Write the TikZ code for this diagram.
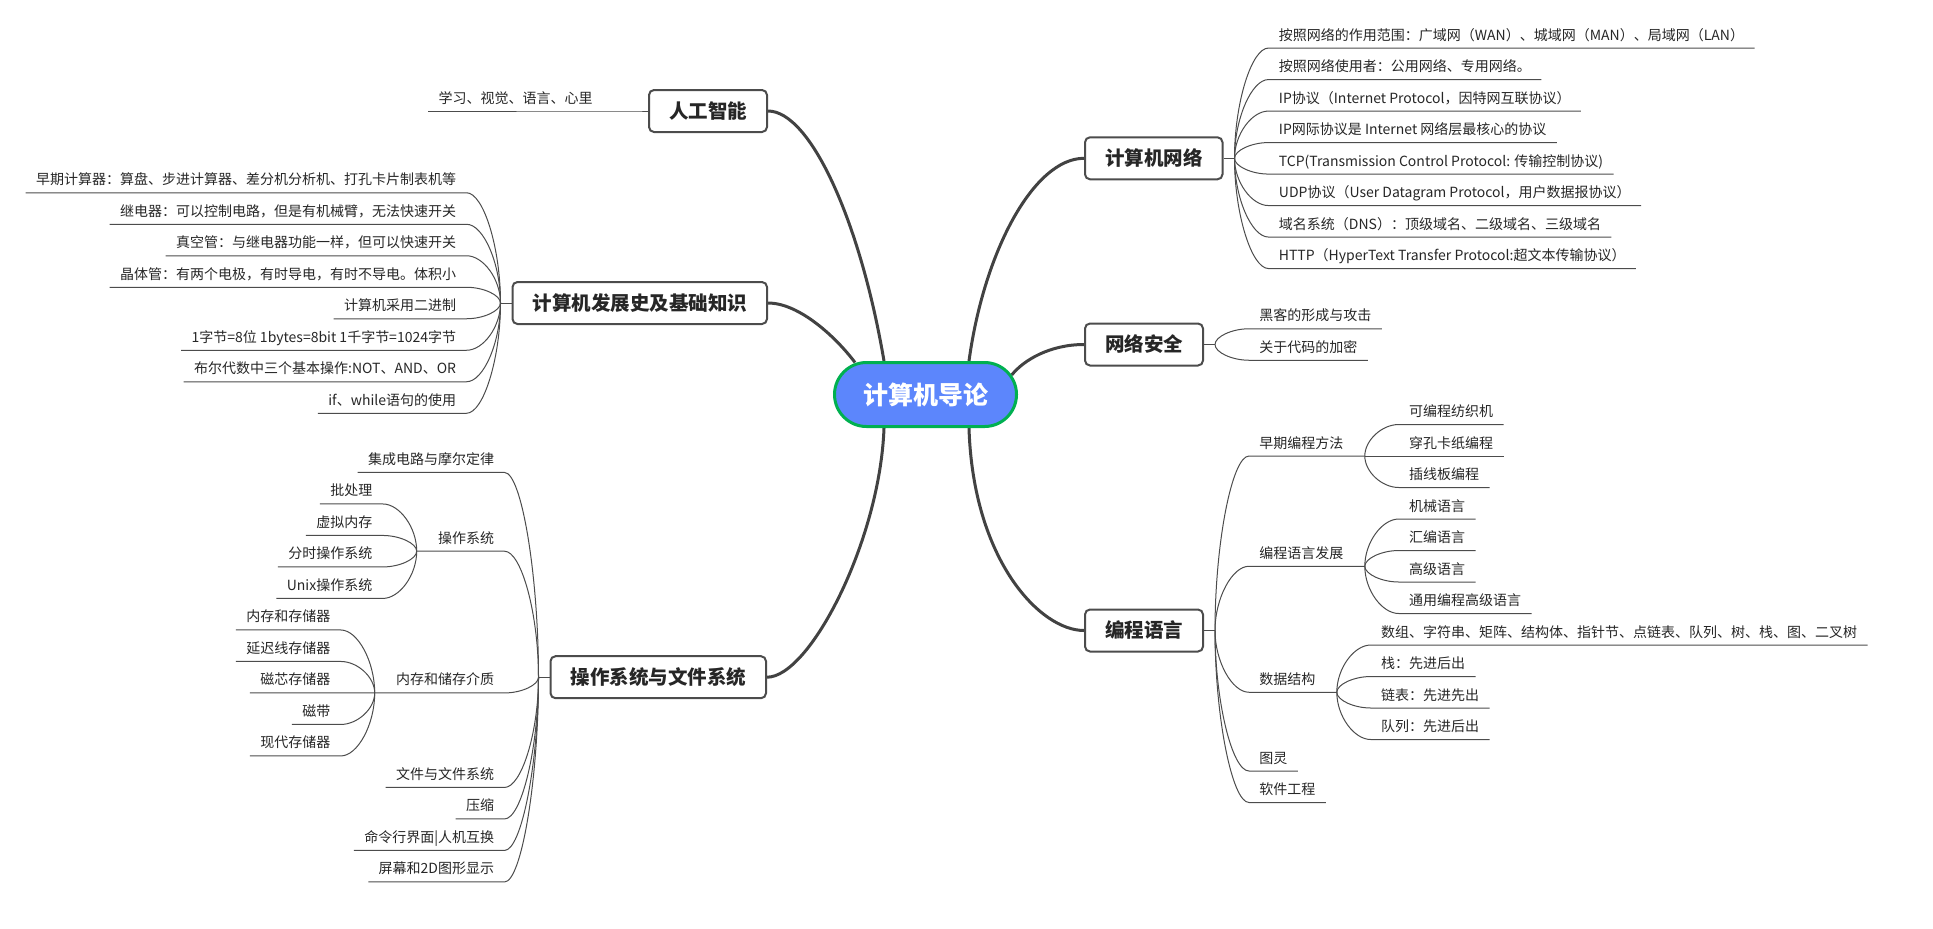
\documentclass[tikz,border=0pt]{standalone}
\usepackage{fontspec}
\setmainfont{Noto Sans CJK SC}
\usetikzlibrary{positioning, calc, backgrounds}

\definecolor{rootblue}{HTML}{5C86FC}
\definecolor{rootgreen}{HTML}{00B050}
\definecolor{linegray}{HTML}{424242}

\begin{document}
\begin{tikzpicture}[x=0.5pt, y=-0.5pt]
        \tikzstyle{root} = [rectangle, rounded corners=16pt, fill=rootblue, draw=rootgreen, line width=1.5pt, text=white, minimum width=91pt, minimum height=32pt, font=\bfseries\fontsize{12.5}{14}\selectfont, text height=11.5pt, text depth=2pt]
        \tikzstyle{topic} = [rectangle, draw=black!70, line width=1pt, fill=white, rounded corners=2.5pt, minimum height=21pt, inner xsep=10pt, font=\bfseries\fontsize{9.75}{11}\selectfont, text=black!85, text height=9pt, text depth=1.7pt]
        \tikzstyle{leaf} = [inner xsep=5pt, inner ysep=2.3pt, text height=5.5pt, text depth=1.5pt, font=\fontsize{7}{8}\selectfont, text=black!85]
        \tikzstyle{trunk} = [draw=linegray, line width=1.5pt]
        \tikzstyle{twig} = [draw=black!70, line width=0.5pt]
        \tikzstyle{branch} = [to path={.. controls ($(\tikztostart)!0.5!(\tikztostart|-\tikztotarget)$) and ($(\tikztotarget)!0.5!(\tikztostart|-\tikztotarget)$) .. (\tikztotarget) \tikztonodes}]

        \useasboundingbox (0,0) rectangle (1933,928);

        \node [root] (root) at (925.5,394.5) {计算机导论};

        % left side
        \node [topic, anchor=east] (ai) at (768,111) {人工智能};
        \node [topic, anchor=east] (hist) at (768,303) {计算机发展史及基础知识};
        \node [topic, anchor=east] (os) at (767,677.2) {操作系统与文件系统};
        \coordinate [left=5.5pt of ai.west] (aij);
        \coordinate [left=5.5pt of hist.west] (histj);
        \coordinate [left=5.5pt of os.west] (osj);

        \node [leaf, anchor=south east] (ai1) at ($(aij)+(-34,0)$) {学习、视觉、语言、心里};

        \node [leaf, anchor=south east] (hist1) at ($(histj)+(-34,-110.25)$) {早期计算器：算盘、步进计算器、差分机分析机、打孔卡片制表机等};
        \node [leaf, anchor=south east] (hist2) at ($(histj)+(-34,-78.75)$) {继电器：可以控制电路，但是有机械臂，无法快速开关};
        \node [leaf, anchor=south east] (hist3) at ($(histj)+(-34,-47.25)$) {真空管：与继电器功能一样，但可以快速开关};
        \node [leaf, anchor=south east] (hist4) at ($(histj)+(-34,-15.75)$) {晶体管：有两个电极，有时导电，有时不导电。体积小};
        \node [leaf, anchor=south east] (hist5) at ($(histj)+(-34,15.75)$) {计算机采用二进制};
        \node [leaf, anchor=south east] (hist6) at ($(histj)+(-34,47.25)$) {1字节=8位 1bytes=8bit 1千字节=1024字节};
        \node [leaf, anchor=south east] (hist7) at ($(histj)+(-34,78.75)$) {布尔代数中三个基本操作:NOT、AND、OR};
        \node [leaf, anchor=south east] (hist8) at ($(histj)+(-34,110.25)$) {if、while语句的使用};

        \node [leaf, anchor=south east] (os1) at ($(osj)+(-34,-204.75)$) {集成电路与摩尔定律};
        \node [leaf, anchor=south east] (os2) at ($(osj)+(-34,-126)$) {操作系统};
        \node [leaf, anchor=south east] (os3) at ($(osj)+(-34,15.75)$) {内存和储存介质};
        \node [leaf, anchor=south east] (os4) at ($(osj)+(-34,110.25)$) {文件与文件系统};
        \node [leaf, anchor=south east] (os5) at ($(osj)+(-34,141.75)$) {压缩};
        \node [leaf, anchor=south east] (os6) at ($(osj)+(-34,173.25)$) {命令行界面|人机互换};
        \node [leaf, anchor=south east] (os7) at ($(osj)+(-34,204.75)$) {屏幕和2D图形显示};
        \coordinate [left=5.5pt of os2.south west] (os2j);
        \coordinate [left=5.5pt of os3.south west] (os3j);

        \node [leaf, anchor=south east] (os21) at ($(os2j)+(-34,-47.25)$) {批处理};
        \node [leaf, anchor=south east] (os22) at ($(os2j)+(-34,-15.75)$) {虚拟内存};
        \node [leaf, anchor=south east] (os23) at ($(os2j)+(-34,15.75)$) {分时操作系统};
        \node [leaf, anchor=south east] (os24) at ($(os2j)+(-34,47.25)$) {Unix操作系统};

        \node [leaf, anchor=south east] (os31) at ($(os3j)+(-34,-63)$) {内存和存储器};
        \node [leaf, anchor=south east] (os32) at ($(os3j)+(-34,-31.5)$) {延迟线存储器};
        \node [leaf, anchor=south east] (os33) at ($(os3j)+(-34,0)$) {磁芯存储器};
        \node [leaf, anchor=south east] (os34) at ($(os3j)+(-34,31.5)$) {磁带};
        \node [leaf, anchor=south east] (os35) at ($(os3j)+(-34,63)$) {现代存储器};

        % right side
        \node [topic, anchor=west] (net) at (1084,158.3) {计算机网络};
        \node [topic, anchor=west] (sec) at (1084,344.5) {网络安全};
        \node [topic, anchor=west] (prog) at (1084,630.5) {编程语言};
        \coordinate [right=5.5pt of net.east] (netj);
        \coordinate [right=5.5pt of sec.east] (secj);
        \coordinate [right=5.5pt of prog.east] (progj);

        \node [leaf, anchor=south west] (net1) at ($(netj)+(34,-110.25)$) {按照网络的作用范围：广域网（WAN）、城域网（MAN）、局域网（LAN）};
        \node [leaf, anchor=south west] (net2) at ($(netj)+(34,-78.75)$) {按照网络使用者：公用网络、专用网络。};
        \node [leaf, anchor=south west] (net3) at ($(netj)+(34,-47.25)$) {IP协议（Internet Protocol，因特网互联协议）};
        \node [leaf, anchor=south west] (net4) at ($(netj)+(34,-15.75)$) {IP网际协议是 Internet 网络层最核心的协议};
        \node [leaf, anchor=south west] (net5) at ($(netj)+(34,15.75)$) {TCP(Transmission Control Protocol: 传输控制协议)};
        \node [leaf, anchor=south west] (net6) at ($(netj)+(34,47.25)$) {UDP协议（User Datagram Protocol，用户数据报协议）};
        \node [leaf, anchor=south west] (net7) at ($(netj)+(34,78.75)$) {域名系统（DNS）：顶级域名、二级域名、三级域名};
        \node [leaf, anchor=south west] (net8) at ($(netj)+(34,110.25)$) {HTTP（HyperText Transfer Protocol:超文本传输协议）};

        \node [leaf, anchor=south west] (sec1) at ($(secj)+(34,-15.75)$) {黑客的形成与攻击};
        \node [leaf, anchor=south west] (sec2) at ($(secj)+(34,15.75)$) {关于代码的加密};

        \node [leaf, anchor=south west] (p1) at ($(progj)+(34,-174.5)$) {早期编程方法};
        \node [leaf, anchor=south west] (p2) at ($(progj)+(34,-64.25)$) {编程语言发展};
        \node [leaf, anchor=south west] (p3) at ($(progj)+(34,61.75)$) {数据结构};
        \node [leaf, anchor=south west] (p4) at ($(progj)+(34,140.5)$) {图灵};
        \node [leaf, anchor=south west] (p5) at ($(progj)+(34,172)$) {软件工程};
        \coordinate [right=5.5pt of p1.south east] (p1j);
        \coordinate [right=5.5pt of p2.south east] (p2j);
        \coordinate [right=5.5pt of p3.south east] (p3j);

        \node [leaf, anchor=south west] (p11) at ($(p1j)+(34,-31.5)$) {可编程纺织机};
        \node [leaf, anchor=south west] (p12) at ($(p1j)+(34,0)$) {穿孔卡纸编程};
        \node [leaf, anchor=south west] (p13) at ($(p1j)+(34,31.5)$) {插线板编程};

        \node [leaf, anchor=south west] (p21) at ($(p2j)+(34,-47.25)$) {机械语言};
        \node [leaf, anchor=south west] (p22) at ($(p2j)+(34,-15.75)$) {汇编语言};
        \node [leaf, anchor=south west] (p23) at ($(p2j)+(34,15.75)$) {高级语言};
        \node [leaf, anchor=south west] (p24) at ($(p2j)+(34,47.25)$) {通用编程高级语言};

        \node [leaf, anchor=south west] (p31) at ($(p3j)+(34,-47.25)$) {数组、字符串、矩阵、结构体、指针节、点链表、队列、树、栈、图、二叉树};
        \node [leaf, anchor=south west] (p32) at ($(p3j)+(34,-15.75)$) {栈：先进后出};
        \node [leaf, anchor=south west] (p33) at ($(p3j)+(34,15.75)$) {链表：先进先出};
        \node [leaf, anchor=south west] (p34) at ($(p3j)+(34,47.25)$) {队列：先进后出};

        \begin{scope}[on background layer]
        % main curves
        \draw [trunk] ($(root.north)+(-41.5,0)$) .. controls +(-24,-141) and +(42,0) .. (ai.east);
        \draw [trunk] ($(root.north west)+(22,1.5)$) .. controls +(-18,-24) and +(32,0) .. (hist.east);
        \draw [trunk] ($(root.south)+(-41.5,0)$) .. controls +(-4,112) and +(43,0) .. (os.east);
        \draw [trunk] ($(root.north)+(43.5,0)$) .. controls +(15,-110) and +(-50,0) .. (net.west);
        \draw [trunk] ($(root.north east)+(-6.3,14)$) .. controls +(12,-15) and +(-34,0) .. (sec.west);
        \draw [trunk] ($(root.south)+(43.5,0)$) .. controls +(4,132) and +(-44,0) .. (prog.west);

        % left branches
        \draw [twig] (ai.west) -- (aij) to[branch] (ai1.south east) -- (ai1.south west);
        \draw [twig] (hist.west) -- (histj);
        \draw [twig] (histj) to[branch] (hist1.south east) -- (hist1.south west);
        \draw [twig] (histj) to[branch] (hist2.south east) -- (hist2.south west);
        \draw [twig] (histj) to[branch] (hist3.south east) -- (hist3.south west);
        \draw [twig] (histj) to[branch] (hist4.south east) -- (hist4.south west);
        \draw [twig] (histj) to[branch] (hist5.south east) -- (hist5.south west);
        \draw [twig] (histj) to[branch] (hist6.south east) -- (hist6.south west);
        \draw [twig] (histj) to[branch] (hist7.south east) -- (hist7.south west);
        \draw [twig] (histj) to[branch] (hist8.south east) -- (hist8.south west);

        \draw [twig] (os.west) -- (osj);
        \draw [twig] (osj) to[branch] (os1.south east) -- (os1.south west);
        \draw [twig] (osj) to[branch] (os2.south east) -- (os2.south west) -- (os2j);
        \draw [twig] (osj) to[branch] (os3.south east) -- (os3.south west) -- (os3j);
        \draw [twig] (osj) to[branch] (os4.south east) -- (os4.south west);
        \draw [twig] (osj) to[branch] (os5.south east) -- (os5.south west);
        \draw [twig] (osj) to[branch] (os6.south east) -- (os6.south west);
        \draw [twig] (osj) to[branch] (os7.south east) -- (os7.south west);
        \draw [twig] (os2j) to[branch] (os21.south east) -- (os21.south west);
        \draw [twig] (os2j) to[branch] (os22.south east) -- (os22.south west);
        \draw [twig] (os2j) to[branch] (os23.south east) -- (os23.south west);
        \draw [twig] (os2j) to[branch] (os24.south east) -- (os24.south west);
        \draw [twig] (os3j) to[branch] (os31.south east) -- (os31.south west);
        \draw [twig] (os3j) to[branch] (os32.south east) -- (os32.south west);
        \draw [twig] (os3j) to[branch] (os33.south east) -- (os33.south west);
        \draw [twig] (os3j) to[branch] (os34.south east) -- (os34.south west);
        \draw [twig] (os3j) to[branch] (os35.south east) -- (os35.south west);

        % right branches
        \draw [twig] (net.east) -- (netj);
        \draw [twig] (netj) to[branch] (net1.south west) -- (net1.south east);
        \draw [twig] (netj) to[branch] (net2.south west) -- (net2.south east);
        \draw [twig] (netj) to[branch] (net3.south west) -- (net3.south east);
        \draw [twig] (netj) to[branch] (net4.south west) -- (net4.south east);
        \draw [twig] (netj) to[branch] (net5.south west) -- (net5.south east);
        \draw [twig] (netj) to[branch] (net6.south west) -- (net6.south east);
        \draw [twig] (netj) to[branch] (net7.south west) -- (net7.south east);
        \draw [twig] (netj) to[branch] (net8.south west) -- (net8.south east);

        \draw [twig] (sec.east) -- (secj);
        \draw [twig] (secj) to[branch] (sec1.south west) -- (sec1.south east);
        \draw [twig] (secj) to[branch] (sec2.south west) -- (sec2.south east);

        \draw [twig] (prog.east) -- (progj);
        \draw [twig] (progj) to[branch] (p1.south west) -- (p1.south east) -- (p1j);
        \draw [twig] (progj) to[branch] (p2.south west) -- (p2.south east) -- (p2j);
        \draw [twig] (progj) to[branch] (p3.south west) -- (p3.south east) -- (p3j);
        \draw [twig] (progj) to[branch] (p4.south west) -- (p4.south east);
        \draw [twig] (progj) to[branch] (p5.south west) -- (p5.south east);
        \draw [twig] (p1j) to[branch] (p11.south west) -- (p11.south east);
        \draw [twig] (p1j) to[branch] (p12.south west) -- (p12.south east);
        \draw [twig] (p1j) to[branch] (p13.south west) -- (p13.south east);
        \draw [twig] (p2j) to[branch] (p21.south west) -- (p21.south east);
        \draw [twig] (p2j) to[branch] (p22.south west) -- (p22.south east);
        \draw [twig] (p2j) to[branch] (p23.south west) -- (p23.south east);
        \draw [twig] (p2j) to[branch] (p24.south west) -- (p24.south east);
        \draw [twig] (p3j) to[branch] (p31.south west) -- (p31.south east);
        \draw [twig] (p3j) to[branch] (p32.south west) -- (p32.south east);
        \draw [twig] (p3j) to[branch] (p33.south west) -- (p33.south east);
        \draw [twig] (p3j) to[branch] (p34.south west) -- (p34.south east);
        \end{scope}

    \end{tikzpicture}
\end{document}
